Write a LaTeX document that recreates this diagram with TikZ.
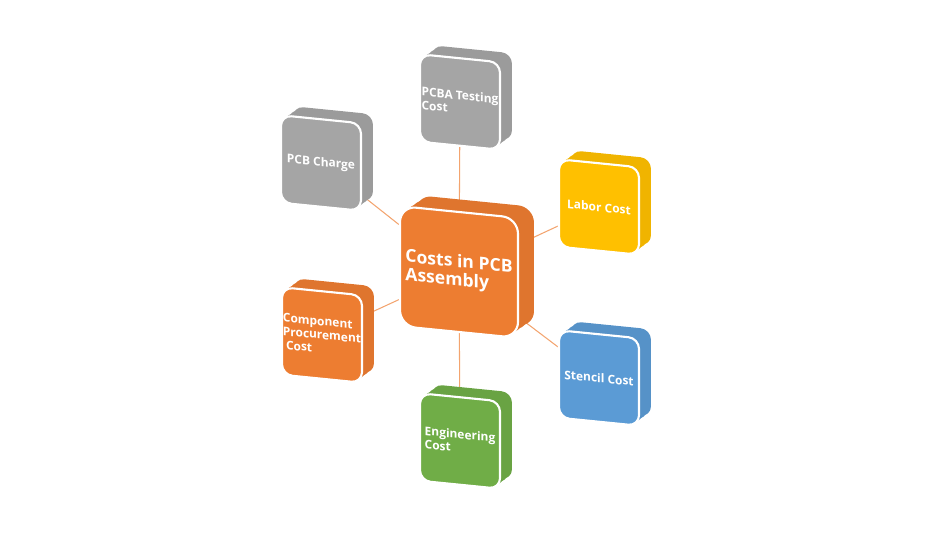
\documentclass[tikz,border=0pt]{standalone}
\usepackage{fontspec}
\setmainfont{Open Sans}
\usetikzlibrary{shadows, backgrounds}
\definecolor{CostOrange}{RGB}{237, 125, 49}
\definecolor{CostGray}{RGB}{165, 165, 165}
\definecolor{CostYellow}{RGB}{255, 192, 0}
\definecolor{CostBlue}{RGB}{91, 155, 213}
\definecolor{CostGreen}{RGB}{112, 173, 71}

\begin{document}
\begin{tikzpicture}[x=0.02cm, y=-0.02cm,
    boxbase/.style={draw=white, line width=1.2pt, inner sep=0pt, yslant=-0.1,
        text=white, align=left},
    % stacked copies give the block its depth
    depth/.style n args={3}{
        copy shadow={fill=#1, draw=none, shadow xshift=#2, shadow yshift=#3},
        copy shadow={fill=#1, draw=none, shadow xshift=0.66*#2, shadow yshift=0.66*#3},
        copy shadow={fill=#1, draw=none, shadow xshift=0.33*#2, shadow yshift=0.33*#3}},
    costbox/.style={boxbase, fill=#1, rounded corners=6pt,
        minimum width=1.6cm, minimum height=1.75cm,
        font=\bfseries\fontsize{6.8}{7.8}\selectfont,
        depth={#1!94!black}{0.24cm}{0.18cm}},
    hubbox/.style={boxbase, fill=CostOrange, rounded corners=9pt,
        minimum width=2.36cm, minimum height=2.4cm,
        font=\bfseries\fontsize{10}{10.5}\selectfont,
        depth={CostOrange!94!black}{0.32cm}{0.22cm}},
    link/.style={CostOrange!70, line width=0.6pt}]
    \path[use as bounding box] (0,0) rectangle (950,550);

    % Central hub
    \node[hubbox] (hub) at (459,272) {Costs in PCB\\Assembly};

    % Cost blocks around the hub
    \node[costbox=CostGray] (testing) at (460,102) {PCBA Testing\\Cost};
    \node[costbox=CostGray] (charge) at (321,163) {PCB Charge};
    \node[costbox=CostYellow] (labor) at (599,207) {Labor Cost};
    \node[costbox=CostOrange] (procure) at (322,335) {Component\\Procurement\\\ Cost};
    \node[costbox=CostBlue] (stencil) at (599,378) {Stencil Cost};
    \node[costbox=CostGreen] (engineer) at (460,441) {Engineering\\Cost};

    % Links behind the blocks
    \begin{scope}[on background layer]
        \foreach \n in {testing, charge, labor, procure, stencil, engineer} {
            \draw[link] (hub) -- (\n);
        }
    \end{scope}
\end{tikzpicture}
\end{document}
